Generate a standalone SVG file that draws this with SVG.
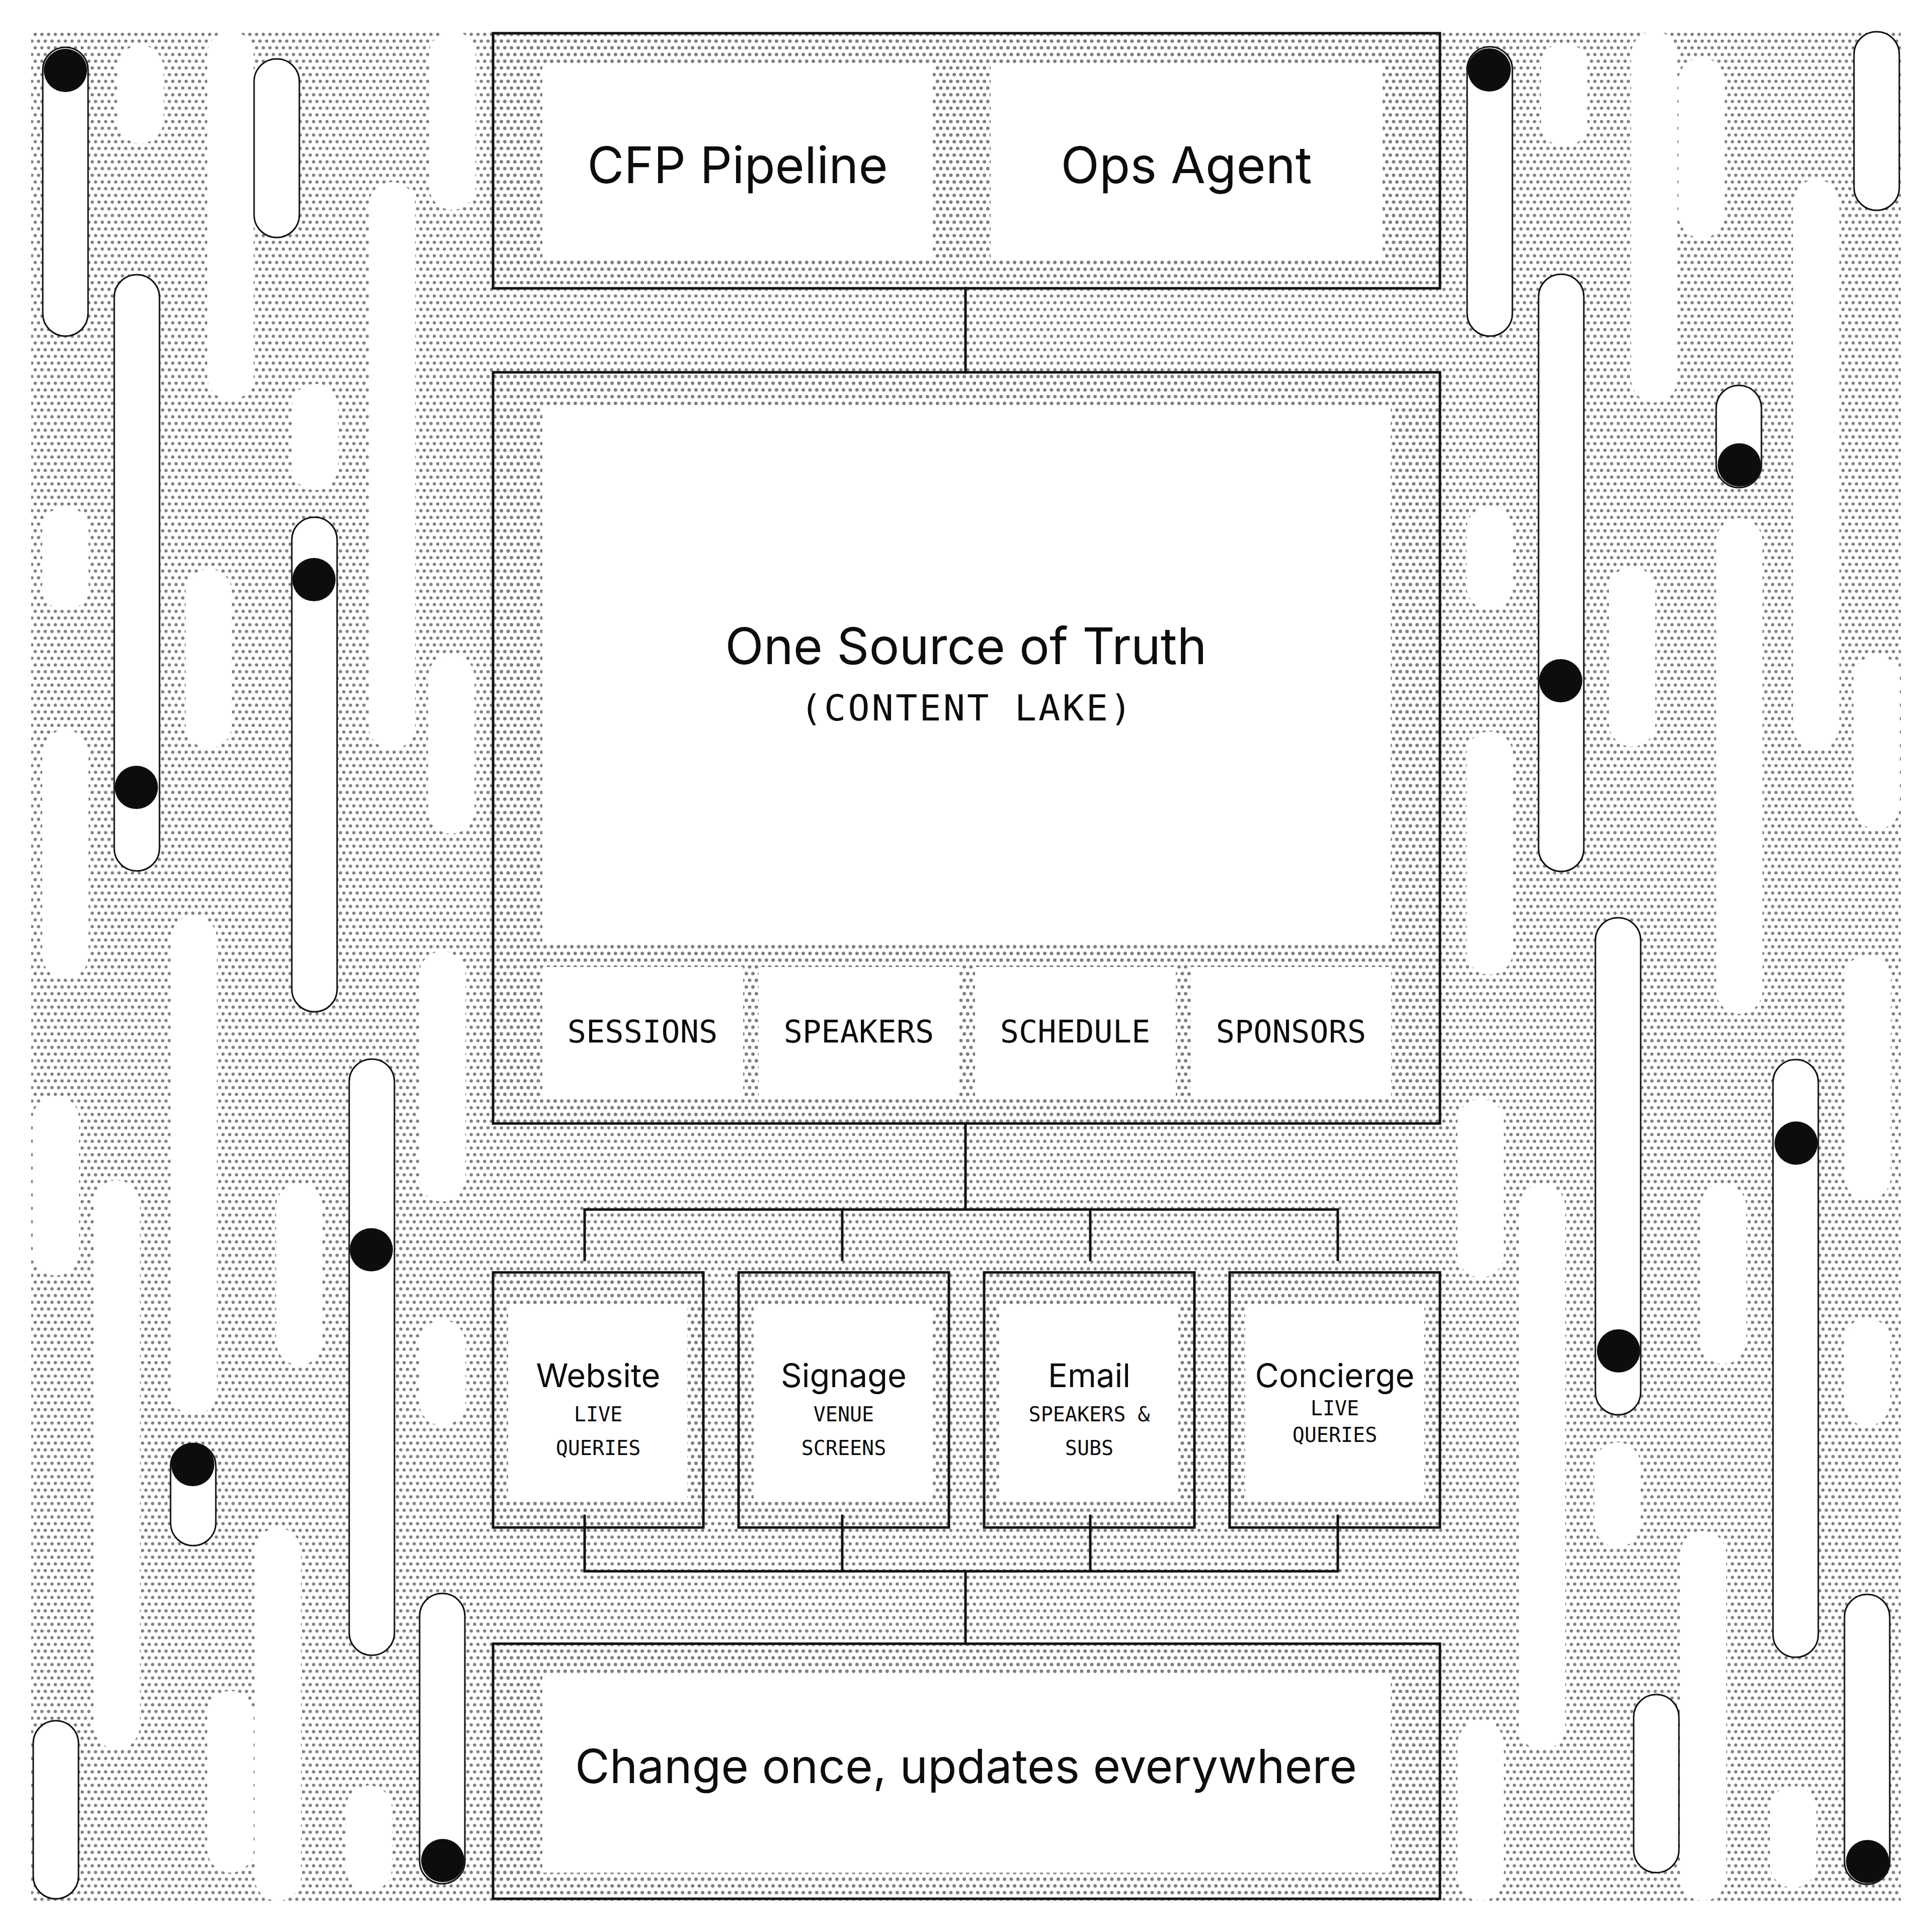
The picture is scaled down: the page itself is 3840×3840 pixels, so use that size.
<svg xmlns="http://www.w3.org/2000/svg" width="3840" height="3840" viewBox="0 0 3840 3840">
<style>
.hole{fill:#ffffff;stroke:none}
.pill{fill:#ffffff;stroke:#111111;stroke-width:3}
.knob{fill:#0d0d0d}
.box{fill:url(#dots);stroke:#111111;stroke-width:5}
.panel{fill:#ffffff}
.conn{fill:none;stroke:#111111;stroke-width:5;stroke-linecap:square}
.sans{font-family:Inter,"Liberation Sans",sans-serif;fill:#0d0d0d;text-anchor:middle}
.mono{font-family:"DejaVu Sans Mono","Liberation Mono",monospace;fill:#0d0d0d;text-anchor:middle}
.t100{font-size:100px}
.t94{font-size:94px}
.t65{font-size:65px}
.m62{font-size:62px}
.m40{font-size:40px}
</style>
<defs>
<pattern id="dots" x="0" y="-5" width="13.333" height="26.667" patternUnits="userSpaceOnUse">
<circle cx="10" cy="6.667" r="3.2" fill="#7e7e7e"/>
<circle cx="3.333" cy="20" r="3.2" fill="#7e7e7e"/>
</pattern>
</defs>
<rect width="3840" height="3840" fill="#ffffff"/>
<g id="background">
<rect x="62" y="62" width="3716" height="3716" fill="url(#dots)"/>
<g id="holes-left">
<rect class="hole" x="233" y="90" width="92" height="195" rx="46"/>
<rect class="hole" x="412" y="62" width="92" height="733" rx="46"/>
<rect class="hole" x="733" y="362" width="92" height="1127" rx="46"/>
<rect class="hole" x="853" y="62" width="92" height="355" rx="46"/>
<rect class="hole" x="580" y="763" width="92" height="211" rx="46"/>
<rect class="hole" x="84" y="1007" width="92" height="206" rx="46"/>
<rect class="hole" x="369" y="1131" width="92" height="356" rx="46"/>
<rect class="hole" x="851" y="1300" width="92" height="357" rx="46"/>
<rect class="hole" x="84" y="1451" width="92" height="494" rx="46"/>
<rect class="hole" x="339" y="1820" width="92" height="992" rx="46"/>
<rect class="hole" x="833" y="1891" width="92" height="497" rx="46"/>
<rect class="hole" x="65" y="2178" width="92" height="357" rx="46"/>
<rect class="hole" x="186" y="2346" width="92" height="1130" rx="46"/>
<rect class="hole" x="549" y="2352" width="92" height="361" rx="46"/>
<rect class="hole" x="833" y="2624" width="92" height="209" rx="46"/>
<rect class="hole" x="412" y="3361" width="92" height="361" rx="46"/>
<rect class="hole" x="506" y="3037" width="92" height="741" rx="46"/>
<rect class="hole" x="687" y="3549" width="92" height="210" rx="46"/>
</g>
<g id="holes-right">
<rect class="hole" x="3063" y="85" width="92" height="206" rx="46"/>
<rect class="hole" x="3242" y="62" width="92" height="738" rx="46"/>
<rect class="hole" x="3336" y="115" width="92" height="358" rx="46"/>
<rect class="hole" x="3564" y="357" width="92" height="1133" rx="46"/>
<rect class="hole" x="2915" y="1006" width="92" height="206" rx="46"/>
<rect class="hole" x="3198" y="1127" width="92" height="357" rx="46"/>
<rect class="hole" x="3411" y="1030" width="92" height="985" rx="46"/>
<rect class="hole" x="3684" y="1303" width="92" height="345" rx="46"/>
<rect class="hole" x="2915" y="1454" width="92" height="483" rx="46"/>
<rect class="hole" x="3666" y="1898" width="92" height="487" rx="46"/>
<rect class="hole" x="2897" y="2184" width="92" height="355" rx="46"/>
<rect class="hole" x="3019" y="2353" width="92" height="1125" rx="46"/>
<rect class="hole" x="3379" y="2353" width="92" height="358" rx="46"/>
<rect class="hole" x="3665" y="2620" width="92" height="214" rx="46"/>
<rect class="hole" x="3169" y="2867" width="92" height="208" rx="46"/>
<rect class="hole" x="3339" y="3043" width="92" height="735" rx="46"/>
<rect class="hole" x="3518" y="3550" width="92" height="202" rx="46"/>
<rect class="hole" x="2897" y="3420" width="92" height="358" rx="46"/>
</g>
<g id="pills-left">
<rect class="pill" x="85" y="94" width="90" height="574" rx="45"/>
<circle class="knob" cx="130" cy="140" r="43"/>
<rect class="pill" x="505" y="117" width="90" height="355" rx="45"/>
<rect class="pill" x="227" y="546" width="90" height="1185" rx="45"/>
<circle class="knob" cx="271" cy="1565" r="43"/>
<rect class="pill" x="580" y="1028" width="90" height="983" rx="45"/>
<circle class="knob" cx="624" cy="1152" r="43"/>
<rect class="pill" x="694" y="2105" width="90" height="1185" rx="45"/>
<circle class="knob" cx="738" cy="2484" r="43"/>
<rect class="pill" x="339" y="2869" width="90" height="203" rx="45"/>
<circle class="knob" cx="383" cy="2911" r="43"/>
<rect class="pill" x="834" y="3167" width="90" height="577" rx="45"/>
<circle class="knob" cx="880" cy="3698" r="43"/>
<rect class="pill" x="66" y="3420" width="90" height="354" rx="45"/>
</g>
<g id="pills-right">
<rect class="pill" x="2916" y="93" width="90" height="575" rx="45"/>
<circle class="knob" cx="2960" cy="139" r="43"/>
<rect class="pill" x="3685" y="63" width="90" height="355" rx="45"/>
<rect class="pill" x="3058" y="545" width="90" height="1187" rx="45"/>
<circle class="knob" cx="3102" cy="1353" r="43"/>
<rect class="pill" x="3411" y="766" width="90" height="203" rx="45"/>
<circle class="knob" cx="3457" cy="924" r="43"/>
<rect class="pill" x="3171" y="1824" width="90" height="988" rx="45"/>
<circle class="knob" cx="3217" cy="2685" r="43"/>
<rect class="pill" x="3524" y="2106" width="90" height="1188" rx="45"/>
<circle class="knob" cx="3570" cy="2272" r="43"/>
<rect class="pill" x="3247" y="3368" width="90" height="354" rx="45"/>
<rect class="pill" x="3666" y="3169" width="90" height="576" rx="45"/>
<circle class="knob" cx="3712" cy="3700" r="43"/>
</g>
</g>
<g id="node-inputs">
<rect class="box" x="980" y="66" width="1882" height="507"/>
<g id="node-cfp">
<rect class="panel" x="1078" y="130" width="776" height="383"/>
<text class="sans t100" x="1466" y="364">CFP Pipeline</text>
</g>
<g id="node-ops">
<rect class="panel" x="1969" y="130" width="779" height="383"/>
<text class="sans t100" x="2358" y="364">Ops Agent</text>
</g>
</g>
<g id="node-content-lake">
<rect class="box" x="980" y="740" width="1882" height="1493"/>
<rect class="panel" x="1078" y="805" width="1686" height="1073"/>
<text class="sans t100" x="1920" y="1320">One Source of Truth</text>
<text class="mono" x="1922" y="1432" font-size="72" letter-spacing="4">(CONTENT LAKE)</text>
<g id="item-sessions"><rect class="panel" x="1078" y="1922" width="399" height="260"/><text class="mono m62" x="1277" y="2072">SESSIONS</text></g>
<g id="item-speakers"><rect class="panel" x="1508" y="1922" width="399" height="260"/><text class="mono m62" x="1707" y="2072">SPEAKERS</text></g>
<g id="item-schedule"><rect class="panel" x="1938" y="1922" width="399" height="260"/><text class="mono m62" x="2137" y="2072">SCHEDULE</text></g>
<g id="item-sponsors"><rect class="panel" x="2367" y="1922" width="398" height="260"/><text class="mono m62" x="2566" y="2072">SPONSORS</text></g>
</g>
<g id="node-website">
<rect class="box" x="980" y="2529" width="418" height="507"/>
<rect class="panel" x="1010" y="2593" width="356" height="392"/>
<text class="sans t65" x="1189" y="2757">Website</text>
<text class="mono m40" x="1189" y="2825">LIVE</text>
<text class="mono m40" x="1189" y="2892">QUERIES</text>
</g>
<g id="node-signage">
<rect class="box" x="1468" y="2529" width="418" height="507"/>
<rect class="panel" x="1498" y="2593" width="356" height="392"/>
<text class="sans t65" x="1677" y="2757">Signage</text>
<text class="mono m40" x="1677" y="2825">VENUE</text>
<text class="mono m40" x="1677" y="2892">SCREENS</text>
</g>
<g id="node-email">
<rect class="box" x="1956" y="2529" width="418" height="507"/>
<rect class="panel" x="1986" y="2593" width="356" height="392"/>
<text class="sans t65" x="2165" y="2757">Email</text>
<text class="mono m40" x="2165" y="2825">SPEAKERS &amp;</text>
<text class="mono m40" x="2165" y="2892">SUBS</text>
</g>
<g id="node-concierge">
<rect class="box" x="2444" y="2529" width="418" height="507"/>
<rect class="panel" x="2475" y="2593" width="356" height="392"/>
<text class="sans t65" x="2653" y="2757">Concierge</text>
<text class="mono m40" x="2653" y="2813">LIVE</text>
<text class="mono m40" x="2653" y="2866">QUERIES</text>
</g>
<g id="node-result">
<rect class="box" x="980" y="3267" width="1882" height="507"/>
<rect class="panel" x="1078" y="3329" width="1686" height="393"/>
<text class="sans t94" x="1920" y="3544">Change once, updates everywhere</text>
</g>
<g id="connectors">
<path class="conn" d="M1919 573V740"/>
<path class="conn" d="M1919 2233V2404M1162 2404H2659M1162 2404V2504M1674 2404V2504M2167 2404V2504M2659 2404V2504"/>
<path class="conn" d="M1162 3013V3123M1674 3013V3123M2167 3013V3123M2659 3013V3123M1162 3123H2659M1919 3123V3267"/>
</g>
</svg>
